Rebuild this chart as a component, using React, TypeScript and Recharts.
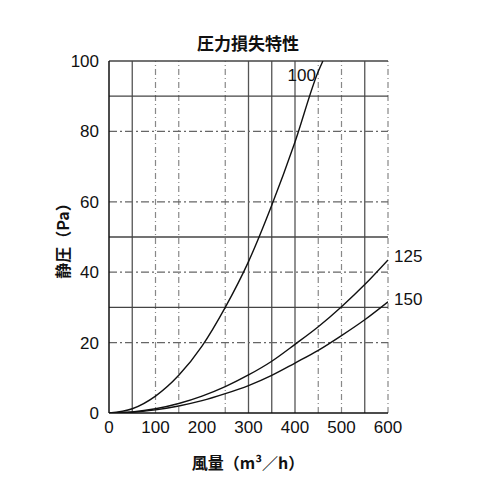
import { LineChart, Line, XAxis, YAxis, ReferenceLine, ReferenceDot } from "recharts";

const flow = [0, 50, 100, 150, 200, 250, 300, 350, 400, 450, 460];
const d100 = [0, 1.2, 4.8, 10.7, 19, 30, 43, 59, 77, 97, 100];
const flowLong = [0, 50, 100, 150, 200, 250, 300, 350, 400, 450, 500, 550, 600];
const d125 = [0, 0.3, 1.2, 2.7, 4.8, 7.5, 10.8, 14.7, 19.5, 24.5, 30.2, 36.5, 43.5];
const d150 = [0, 0.2, 0.9, 2, 3.5, 5.5, 7.8, 10.7, 14.2, 17.8, 22, 26.5, 31.6];

const xTicks = [0, 100, 200, 300, 400, 500, 600];
const yTicks = [0, 20, 40, 60, 80, 100];
const xGridSolid = [50, 300, 350, 400, 550];
const xGridDashed = [100, 150, 250, 450, 500, 600];
const yGridSolid = [30, 50, 90, 100];
const yGridDashed = [20, 40, 60, 80];

const s100 = flow.map((x, i) => ({ x, y: d100[i] }));
const s125 = flowLong.map((x, i) => ({ x, y: d125[i] }));
const s150 = flowLong.map((x, i) => ({ x, y: d150[i] }));

const font = "'Liberation Sans', Arial, sans-serif";
const cjk = "'Noto Sans CJK JP', sans-serif";

export default function App() {
  return (
    <div style={{ position: "absolute", left: 0, top: 0, width: 500, height: 500, background: "#fff" }}>
      <div style={{ position: "absolute", left: 0, top: 30, width: 496, textAlign: "center", fontFamily: cjk, fontWeight: 700, fontSize: 17, color: "#111" }}>
        圧力損失特性
      </div>
      <div style={{ position: "absolute", left: 0, top: 450, width: 496, textAlign: "center", fontFamily: cjk, fontWeight: 700, fontSize: 16, color: "#111" }}>
        風量（m³／h）
      </div>
      <div style={{ position: "absolute", left: 62, top: 237, transform: "translate(-50%, -50%) rotate(-90deg)", whiteSpace: "nowrap", fontFamily: cjk, fontWeight: 700, fontSize: 16, color: "#111" }}>
        静圧（Pa）
      </div>
      <LineChart width={500} height={500} margin={{ top: 61, right: 112, bottom: 57, left: 0 }}>
        <XAxis
          type="number"
          dataKey="x"
          domain={[0, 600]}
          ticks={xTicks}
          height={30}
          tick={{ fill: "#111", fontSize: 17, fontFamily: font }}
          tickLine={false}
          axisLine={{ stroke: "#111", strokeWidth: 1.5 }}
          tickMargin={2}
          allowDataOverflow
        />
        <YAxis
          type="number"
          domain={[0, 100]}
          ticks={yTicks}
          width={109}
          tick={{ fill: "#111", fontSize: 17, fontFamily: font }}
          tickLine={false}
          axisLine={{ stroke: "#111", strokeWidth: 1.5 }}
          tickMargin={4}
          allowDataOverflow
        />
        {xGridSolid.map((v) => (
          <ReferenceLine key={"xs" + v} x={v} stroke="#555" strokeWidth={1.3} />
        ))}
        {xGridDashed.map((v) => (
          <ReferenceLine key={"xd" + v} x={v} stroke="#888" strokeWidth={1.2} strokeDasharray="6 3 1 3" />
        ))}
        {yGridSolid.map((v) => (
          <ReferenceLine key={"ys" + v} y={v} stroke="#444" strokeWidth={1.3} />
        ))}
        {yGridDashed.map((v) => (
          <ReferenceLine key={"yd" + v} y={v} stroke="#666" strokeWidth={1.2} strokeDasharray="8 3 2 3" />
        ))}
        <Line data={s100} dataKey="y" type="monotone" stroke="#111" strokeWidth={1.4} dot={false} isAnimationActive={false} />
        <Line data={s125} dataKey="y" type="monotone" stroke="#111" strokeWidth={1.4} dot={false} isAnimationActive={false} />
        <Line data={s150} dataKey="y" type="monotone" stroke="#111" strokeWidth={1.4} dot={false} isAnimationActive={false} />
        <ReferenceDot x={445} y={96} r={0} stroke="none" label={{ value: "100", position: "left", offset: 0, fill: "#111", fontSize: 17, fontFamily: font }} />
        <ReferenceDot x={600} y={44.5} r={0} stroke="none" label={{ value: "125", position: "right", offset: 6, fill: "#111", fontSize: 17, fontFamily: font }} />
        <ReferenceDot x={600} y={32.5} r={0} stroke="none" label={{ value: "150", position: "right", offset: 6, fill: "#111", fontSize: 17, fontFamily: font }} />
      </LineChart>
    </div>
  );
}
